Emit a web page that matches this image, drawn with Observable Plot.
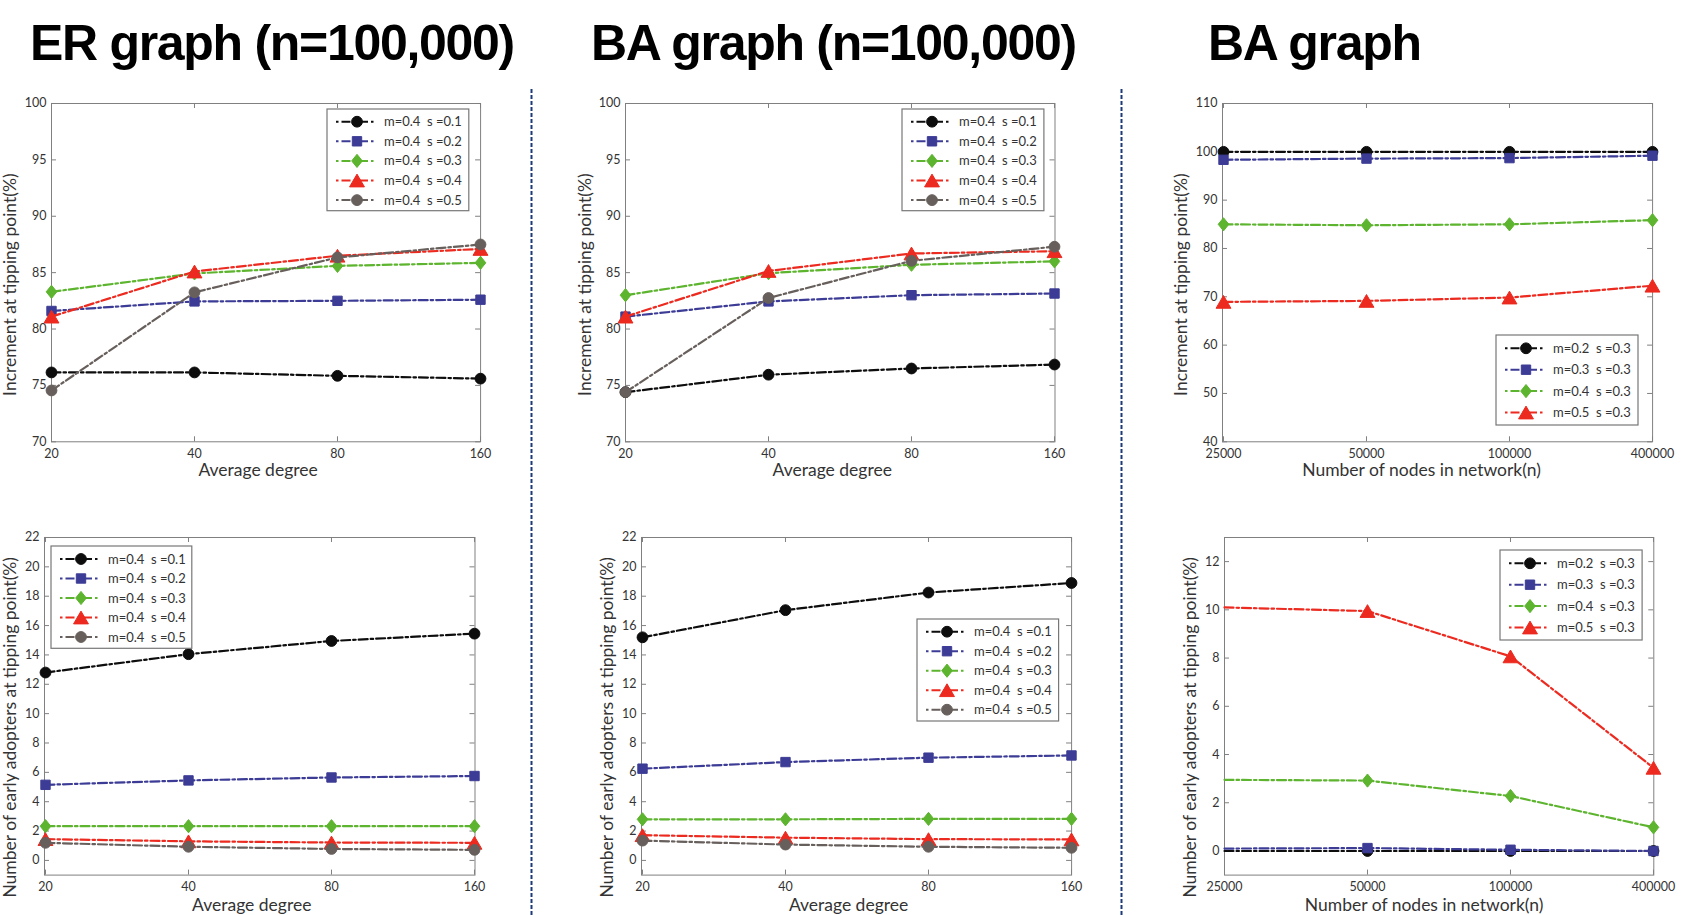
<!DOCTYPE html>
<html>
<head>
<meta charset="utf-8">
<script src="https://cdn.jsdelivr.net/npm/d3@7"></script>
<script src="https://cdn.jsdelivr.net/npm/@observablehq/plot@0.6"></script>
<style>
  html, body { margin: 0; padding: 0; background: #fff; }
  body { width: 1690px; height: 915px; position: relative; overflow: hidden; font-family: Lato, "Open Sans", sans-serif; }
  svg.abs { position: absolute; overflow: visible; }
</style>
</head>
<body>
<script>
// ---------------- data ----------------
const degrees = [20, 40, 80, 160];
const networkSizes = [25000, 50000, 100000, 400000];

const sSeriesLabels = ["m=0.4  s =0.1", "m=0.4  s =0.2", "m=0.4  s =0.3", "m=0.4  s =0.4", "m=0.4  s =0.5"];
const mSeriesLabels = ["m=0.2  s =0.3", "m=0.3  s =0.3", "m=0.4  s =0.3", "m=0.5  s =0.3"];

const titles = ["ER graph (n=100,000)", "BA graph (n=100,000)", "BA graph"];
const incrementLabel = "Increment at tipping point(%)";
const adoptersLabel = "Number of early adopters at tipping point(%)";
const degreeLabel = "Average degree";
const nodesLabel = "Number of nodes in network(n)";

const incrementTicks = [70, 75, 80, 85, 90, 95, 100];
const incrementNodeTicks = [40, 50, 60, 70, 80, 90, 100, 110];
const adopterTicks = [0, 2, 4, 6, 8, 10, 12, 14, 16, 18, 20, 22];
const adopterNodeTicks = [0, 2, 4, 6, 8, 10, 12];

// ER graph, increment at tipping point (%), series s=0.1..0.5
const erIncrement = [
  [76.15, 76.15, 75.85, 75.6],
  [81.6, 82.45, 82.5, 82.6],
  [83.3, 84.93, 85.6, 85.87],
  [81.1, 85.1, 86.5, 87.1],
  [74.55, 83.25, 86.35, 87.5]
];
// BA graph, increment at tipping point (%)
const baIncrement = [
  [74.4, 75.95, 76.5, 76.85],
  [81.1, 82.45, 83.0, 83.15],
  [83.0, 84.95, 85.7, 86.0],
  [81.1, 85.15, 86.7, 86.9],
  [74.4, 82.75, 86.05, 87.3]
];
// BA graph vs network size, increment (%), series m=0.2..0.5
const baNodeIncrement = [
  [100.0, 100.0, 100.0, 100.0],
  [98.35, 98.6, 98.7, 99.2],
  [85.0, 84.8, 85.0, 85.85],
  [68.95, 69.15, 69.85, 72.3]
];
// ER graph, early adopters (%)
const erAdopters = [
  [12.8, 14.05, 14.95, 15.45],
  [5.15, 5.45, 5.65, 5.75],
  [2.33, 2.33, 2.33, 2.33],
  [1.45, 1.3, 1.22, 1.2],
  [1.2, 0.93, 0.78, 0.72]
];
// BA graph, early adopters (%)
const baAdopters = [
  [15.2, 17.05, 18.25, 18.9],
  [6.25, 6.7, 7.0, 7.15],
  [2.8, 2.8, 2.83, 2.83],
  [1.72, 1.55, 1.45, 1.43],
  [1.35, 1.08, 0.93, 0.86]
];
// BA graph vs network size, early adopters (%)
const baNodeAdopters = [
  [0.0, 0.0, 0.0, 0.0],
  [0.1, 0.12, 0.05, 0.0],
  [2.95, 2.92, 2.28, 0.98],
  [10.1, 9.95, 8.07, 3.45]
];

// ---------------- styles ----------------
const seriesColors = ["#0d0d0d", "#3c3c96", "#5db42e", "#ec2a1f", "#675f5c"];
const seriesSymbols = ["circle", "square", "diamond", "triangle", "circle"];
const frameColor = "#808080";
const textColor = "#333333";
const dash = "9,3,2.5,3";

const symbolDefs = {
  circle: {obj: d3.symbolCircle, r: 5.4},
  square: {obj: d3.symbolSquare, r: 5.3},
  diamond: {obj: {draw(ctx, size) { const s = Math.sqrt(size); const h = s * 0.62, w = s * 0.5;
      ctx.moveTo(0, -h); ctx.lineTo(w, 0); ctx.lineTo(0, h); ctx.lineTo(-w, 0); ctx.closePath(); }}, r: 6},
  triangle: {obj: {draw(ctx, size) { const s = Math.sqrt(size); const h = s * 0.6, w = s * 0.7;
      ctx.moveTo(0, -h); ctx.lineTo(w, h); ctx.lineTo(-w, h); ctx.closePath(); }}, r: 6}
};

// ---------------- background: titles + separators ----------------
const bg = d3.select("body").append("svg").attr("class", "abs")
  .attr("width", 1690).attr("height", 915).style("left", "0px").style("top", "0px");
const titleX = [30, 591, 1208];
titles.forEach((t, i) => {
  bg.append("text").attr("x", titleX[i]).attr("y", 60)
    .attr("font-family", "'Liberation Sans', Arial, sans-serif").attr("font-weight", "bold")
    .attr("font-size", 50).attr("letter-spacing", "-1.3px").attr("fill", "#000").text(t);
});
[531.5, 1121.5].forEach(x => {
  bg.append("line").attr("x1", x).attr("x2", x).attr("y1", 89).attr("y2", 915)
    .attr("stroke", "#1c3a78").attr("stroke-width", 2).attr("stroke-dasharray", "4,2");
});

// ---------------- panels ----------------
function drawPanel(cfg) {
  const {frame, xs, yDomain, yTicks, series, labels, xLabel, yLabel,
         xLabelDx, xLabelDy, yLabelDx, yLabelDy, legendBox, rowStart, rowStep, firstMarker = 0} = cfg;
  const [fx0, fy0, fx1, fy1] = frame;
  const ml = 80, mr = 30, mt = 12, mb = 50;
  const pw = fx1 - fx0, ph = fy1 - fy0;
  const rows = series.flatMap((vals, k) => vals.map((v, j) => ({x: xs[j], y: v, k, j})));

  const marks = [
    Plot.frame({stroke: frameColor, strokeWidth: 1}),
    Plot.ruleX(xs, {insetTop: ph - 5, stroke: frameColor}),
    Plot.ruleX(xs, {insetBottom: ph - 5, stroke: frameColor}),
    Plot.ruleY(yTicks, {insetRight: pw - 5, stroke: frameColor}),
    Plot.ruleY(yTicks, {insetLeft: pw - 5, stroke: frameColor}),
    Plot.axisX({tickSize: 0, tickPadding: 7, fontSize: 12.5, label: null, tickFormat: d => String(d)}),
    Plot.axisY({ticks: yTicks, tickSize: 0, tickPadding: 5, fontSize: 12.5, label: null}),
    Plot.text([xLabel], {text: d => d, frameAnchor: "bottom", textAnchor: "middle", lineAnchor: "bottom",
      dx: xLabelDx, dy: xLabelDy, fontSize: 17.5, fill: textColor}),
    Plot.text([yLabel], {text: d => d, frameAnchor: "left", textAnchor: "middle", rotate: -90, lineAnchor: "middle",
      dx: yLabelDx, dy: yLabelDy, fontSize: 17.5, fill: textColor})
  ];
  series.forEach((vals, k) => {
    const r = rows.filter(d => d.k === k);
    const sym = symbolDefs[seriesSymbols[k]];
    marks.push(Plot.line(r, {x: "x", y: "y", stroke: seriesColors[k], strokeWidth: 2.2, strokeDasharray: dash}));
    marks.push(Plot.dot(r.filter(d => d.j >= firstMarker), {x: "x", y: "y", symbol: sym.obj, r: sym.r,
      fill: seriesColors[k], stroke: seriesColors[k], strokeWidth: 1}));
  });

  const svg = Plot.plot({
    width: pw + ml + mr, height: ph + mt + mb,
    marginLeft: ml, marginRight: mr, marginTop: mt, marginBottom: mb,
    style: {background: "transparent", overflow: "visible", color: textColor, fontFamily: "Lato, 'Open Sans', sans-serif"},
    x: {type: "point", domain: xs, padding: 0},
    y: {domain: yDomain},
    marks
  });
  svg.classList.add("abs");
  svg.style.position = "absolute";
  svg.style.left = (fx0 - ml) + "px";
  svg.style.top = (fy0 - mt) + "px";
  document.body.appendChild(svg);

  // legend
  const [bx0, by0, bx1, by1] = legendBox;
  const lg = d3.select("body").append("svg").attr("class", "abs")
    .attr("width", bx1 - bx0 + 2).attr("height", by1 - by0 + 2)
    .style("left", (bx0 - 1) + "px").style("top", (by0 - 1) + "px");
  lg.append("rect").attr("x", 1).attr("y", 1).attr("width", bx1 - bx0).attr("height", by1 - by0)
    .attr("fill", "#fff").attr("stroke", "#777").attr("stroke-width", 1.2);
  labels.forEach((lab, k) => {
    const y = 1 + rowStart + k * rowStep;
    const sym = symbolDefs[seriesSymbols[k]];
    lg.append("line").attr("x1", 10).attr("x2", 50).attr("y1", y).attr("y2", y)
      .attr("stroke", seriesColors[k]).attr("stroke-width", 2).attr("stroke-dasharray", "2.5,3,9,3");
    lg.append("path").attr("d", d3.symbol().type(sym.obj).size(Math.PI * sym.r * sym.r)())
      .attr("transform", `translate(31,${y})`).attr("fill", seriesColors[k])
      .attr("stroke", seriesColors[k]).attr("stroke-width", 1);
    lg.append("text").attr("x", 58).attr("y", y).attr("dy", "0.35em")
      .attr("font-family", "Lato, 'Open Sans', sans-serif").attr("font-size", 13)
      .attr("fill", textColor).style("white-space", "pre").text(lab);
  });
}

drawPanel({frame: [50.6, 102.7, 479.7, 441], xs: degrees, yDomain: [70, 100], yTicks: incrementTicks,
  series: erIncrement, labels: sSeriesLabels, xLabel: degreeLabel, yLabel: incrementLabel,
  xLabelDx: -8, xLabelDy: 34, yLabelDx: -41, yLabelDy: 12,
  legendBox: [327.2, 109.3, 469, 211], rowStart: 12.7, rowStep: 19.6});

drawPanel({frame: [625.4, 102.7, 1054.9, 441], xs: degrees, yDomain: [70, 100], yTicks: incrementTicks,
  series: baIncrement, labels: sSeriesLabels, xLabel: degreeLabel, yLabel: incrementLabel,
  xLabelDx: -8, xLabelDy: 34, yLabelDx: -40, yLabelDy: 12,
  legendBox: [902, 109.3, 1043.9, 211], rowStart: 12.7, rowStep: 19.6});

drawPanel({frame: [1221.7, 102.7, 1651.8, 441], xs: networkSizes, yDomain: [40, 110], yTicks: incrementNodeTicks,
  series: baNodeIncrement, labels: mSeriesLabels, xLabel: nodesLabel, yLabel: incrementLabel,
  xLabelDx: -16, xLabelDy: 34, yLabelDx: -41, yLabelDy: 12,
  legendBox: [1496, 335, 1638, 425], rowStart: 13.3, rowStep: 21.4});

drawPanel({frame: [43.7, 536.7, 474.2, 874.3], xs: degrees, yDomain: [-1, 22], yTicks: adopterTicks,
  series: erAdopters, labels: sSeriesLabels, xLabel: degreeLabel, yLabel: adoptersLabel,
  xLabelDx: -8, xLabelDy: 35.5, yLabelDx: -34, yLabelDy: 21,
  legendBox: [51, 546, 191.8, 648.3], rowStart: 13, rowStep: 19.5});

drawPanel({frame: [640.6, 536.7, 1070.7, 874.3], xs: degrees, yDomain: [-1, 22], yTicks: adopterTicks,
  series: baAdopters, labels: sSeriesLabels, xLabel: degreeLabel, yLabel: adoptersLabel,
  xLabelDx: -8, xLabelDy: 35.5, yLabelDx: -34, yLabelDy: 21,
  legendBox: [917.1, 619, 1058.7, 721], rowStart: 12.7, rowStep: 19.5});

drawPanel({frame: [1223.5, 536.7, 1652.8, 874.3], xs: networkSizes, yDomain: [-1, 13], yTicks: adopterNodeTicks,
  series: baNodeAdopters, labels: mSeriesLabels, xLabel: nodesLabel, yLabel: adoptersLabel,
  xLabelDx: -15, xLabelDy: 35.5, yLabelDx: -34.5, yLabelDy: 21,
  legendBox: [1500.2, 550, 1642.3, 640], rowStart: 13.3, rowStep: 21.4, firstMarker: 1});
</script>
</body>
</html>
